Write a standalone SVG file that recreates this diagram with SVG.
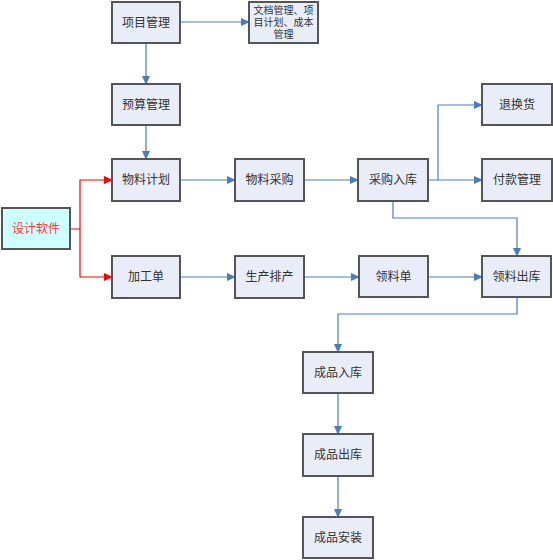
<svg xmlns="http://www.w3.org/2000/svg" width="553" height="560" viewBox="0 0 553 560">
<style>
.n rect{fill:#e8edf7;stroke:#555;stroke-width:2}
.n text{font-family:"Liberation Sans","Noto Sans CJK SC",sans-serif;font-size:12px;fill:#333;text-anchor:middle;dominant-baseline:central}
.c path{fill:none;stroke:#4a7ebb;stroke-width:1.2}
.c path.r{stroke:#ff0000}
</style>
<defs>
<marker id="a" markerUnits="userSpaceOnUse" markerWidth="9" markerHeight="8" refX="8" refY="4" orient="auto"><path d="M0,0 L9,4 L0,8 Z" fill="#4a7ebb"/></marker>
<marker id="ar" markerUnits="userSpaceOnUse" markerWidth="9" markerHeight="8" refX="8" refY="4" orient="auto"><path d="M0,0 L9,4 L0,8 Z" fill="#ff0000"/></marker>
</defs>
<rect width="553" height="560" fill="#fff"/>
<g class="c">
<path d="M180,22 H249" marker-end="url(#a)"/>
<path d="M146,43 V84" marker-end="url(#a)"/>
<path d="M146,125 V159" marker-end="url(#a)"/>
<path d="M180,180 H235" marker-end="url(#a)"/>
<path d="M304,180 H358" marker-end="url(#a)"/>
<path d="M428,180 H482" marker-end="url(#a)"/>
<path d="M438,180 V105 H482" marker-end="url(#a)"/>
<path d="M393,201 V218 H517 V256" marker-end="url(#a)"/>
<path d="M180,277 H235" marker-end="url(#a)"/>
<path d="M304,277 H359" marker-end="url(#a)"/>
<path d="M428,277 H482" marker-end="url(#a)"/>
<path d="M517,297 V314 H338 V352" marker-end="url(#a)"/>
<path d="M338,393 V434" marker-end="url(#a)"/>
<path d="M338,476 V517" marker-end="url(#a)"/>
<path class="r" d="M70,229 H80 V180 H112" marker-end="url(#ar)"/>
<path class="r" d="M80,229 V277 H112" marker-end="url(#ar)"/>
</g>
<g class="n" id="n1"><rect x="112" y="2" width="68" height="41"/><text x="146" y="22.5">项目管理</text></g>
<g class="n" id="n2"><rect x="249" y="2" width="69" height="41"/><text x="283.5" y="10" style="font-size:10px">文档管理、项</text><text x="283.5" y="22" style="font-size:10px">目计划、成本</text><text x="283.5" y="34" style="font-size:10px">管理</text></g>
<g class="n" id="n3"><rect x="112" y="84" width="68" height="41"/><text x="146" y="104.5">预算管理</text></g>
<g class="n" id="n4"><rect x="112" y="159" width="68" height="42"/><text x="146" y="180">物料计划</text></g>
<g class="n" id="n5"><rect x="2" y="208" width="68" height="41" style="fill:#ccffff"/><text x="36" y="228.5" style="fill:#ff3333">设计软件</text></g>
<g class="n" id="n6"><rect x="112" y="256" width="68" height="42"/><text x="146" y="277">加工单</text></g>
<g class="n" id="n7"><rect x="235" y="159" width="69" height="42"/><text x="269.5" y="180">物料采购</text></g>
<g class="n" id="n8"><rect x="358" y="159" width="70" height="42"/><text x="393" y="180">采购入库</text></g>
<g class="n" id="n9"><rect x="482" y="84" width="70" height="41"/><text x="517" y="104.5">退换货</text></g>
<g class="n" id="n10"><rect x="482" y="159" width="70" height="42"/><text x="517" y="180">付款管理</text></g>
<g class="n" id="n11"><rect x="235" y="256" width="69" height="42"/><text x="269.5" y="277">生产排产</text></g>
<g class="n" id="n12"><rect x="359" y="256" width="69" height="41"/><text x="393.5" y="276.5">领料单</text></g>
<g class="n" id="n13"><rect x="482" y="256" width="69" height="41"/><text x="516.5" y="276.5">领料出库</text></g>
<g class="n" id="n14"><rect x="303" y="352" width="70" height="41"/><text x="338" y="372.5">成品入库</text></g>
<g class="n" id="n15"><rect x="303" y="434" width="70" height="42"/><text x="338" y="455">成品出库</text></g>
<g class="n" id="n16"><rect x="303" y="517" width="70" height="41"/><text x="338" y="537.5">成品安装</text></g>
</svg>
